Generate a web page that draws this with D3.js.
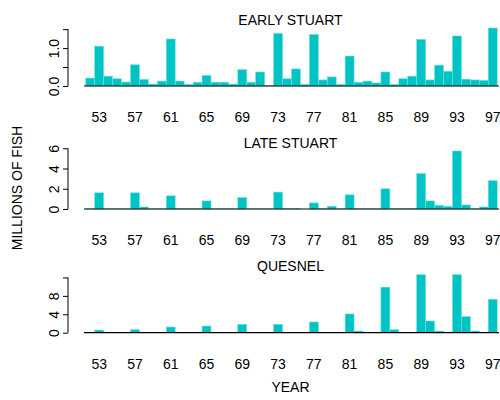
<!DOCTYPE html>
<html><head><meta charset="utf-8">
<script src="https://cdn.jsdelivr.net/npm/d3@7"></script>
<style>body{margin:0;background:#fff}svg{display:block}text{font-family:"Liberation Sans",Arial,sans-serif;fill:#000}</style>
</head><body><svg id="c" width="500" height="400"></svg>
<script>
const years = d3.range(1952, 1998);
const xTickYears = [1953,1957,1961,1965,1969,1973,1977,1981,1985,1989,1993,1997];
const panelTitles = ["EARLY STUART","LATE STUART","QUESNEL"];
const earlyStuart = [0.21,1.05,0.26,0.19,0.105,0.56,0.175,0.05,0.13,1.24,0.13,0.04,0.1,0.28,0.1,0.1,0.05,0.43,0.1,0.37,0.01,1.39,
  0.19,0.45,0.04,1.36,0.16,0.24,0.04,0.79,0.1,0.13,0.08,0.37,0.04,0.19,0.26,1.23,0.16,0.55,0.39,1.32,0.18,0.16,0.15,1.53];
const lateStuart = [0.02,1.6,0.02,0.02,0.02,1.6,0.2,0.02,0.02,1.3,0.03,0.03,0.03,0.8,0.02,0.02,0.02,1.13,0.02,0.02,0.02,1.67,
  0.03,0.03,0.0,0.6,0.03,0.27,0.02,1.4,0.03,0.02,0.02,2.0,0.03,0.03,0.03,3.5,0.8,0.37,0.27,5.73,0.4,0.02,0.2,2.8];
const quesnel = [0.05,0.58,0.05,0.05,0.05,0.65,0.05,0.05,0.05,1.24,0.05,0.05,0.05,1.45,0.05,0.05,0.05,1.82,0.05,0.05,0.05,1.82,
  0.05,0.05,0.05,2.33,0.05,0.05,0.05,4.07,0.36,0.05,0.05,9.9,0.65,0.05,0.05,12.6,2.55,0.36,0.05,12.6,3.5,0.36,0.05,7.27];
const seriesList = [earlyStuart, lateStuart, quesnel];
const yTicks = [[0,0.5,1.0,1.5],[0,2,4,6],[0,4,8,12]];
const yTickLabels = [["0.0","","1.0",""],["0","2","4","6"],["0","4","8",""]];
const yAxisTitle = "MILLIONS OF FISH";
const xAxisTitle = "YEAR";

const svg = d3.select("#c");
const x = d3.scaleBand().domain(years).range([85.75, 497.2]).padding(0);
const baselines = [86, 209, 332.7];
const plotH = 58;
const fill = "#00C4C4";

seriesList.forEach((data, i) => {
  const b = baselines[i];
  const y = d3.scaleLinear().domain([0, d3.max(data)]).range([b, b - plotH]);
  const g = svg.append("g");
  g.selectAll("rect").data(data).join("rect")
    .attr("x", (d, j) => x(years[j]))
    .attr("width", x.bandwidth())
    .attr("y", d => y(d))
    .attr("height", d => b - y(d))
    .attr("fill", fill)
    .attr("stroke", "#6fdede")
    .attr("stroke-width", 0.6);
  // baseline
  g.append("line").attr("x1", 84).attr("x2", 499).attr("y1", b).attr("y2", b)
    .attr("stroke", "#000").attr("stroke-width", 1.2);
  // y axis
  const ticks = yTicks[i];
  const ax = d3.axisLeft(y).tickValues(ticks).tickSize(5).tickSizeOuter(0)
    .tickFormat((d, k) => yTickLabels[i][k]);
  const ag = g.append("g").attr("transform", "translate(68,0)").call(ax);
  ag.select(".domain").attr("stroke", "#000").attr("d", `M0,${y(ticks[0])}V${y(ticks[ticks.length-1])}`);
  ag.selectAll(".tick line").attr("stroke", "#000");
  ag.selectAll(".tick text")
    .attr("x", 0).attr("dy", null)
    .attr("transform", "translate(-13,0) rotate(-90)")
    .attr("text-anchor", "middle")
    .attr("dominant-baseline", "middle")
    .style("font-size", "14px");
  // x labels
  g.selectAll("text.xl").data(xTickYears).join("text").attr("class", "xl")
    .attr("x", d => x(d) + x.bandwidth() / 2)
    .attr("y", b + 32.5)
    .attr("text-anchor", "middle")
    .attr("dominant-baseline", "middle")
    .style("font-size", "14px")
    .text(d => String(d).slice(2));
  // title
  g.append("text").attr("x", 290.5).attr("y", b - 65)
    .attr("text-anchor", "middle").attr("dominant-baseline", "middle")
    .style("font-size", "14px").text(panelTitles[i]);
});

svg.append("text").attr("transform", "translate(18,188) rotate(-90)")
  .attr("text-anchor", "middle").attr("dominant-baseline", "middle")
  .style("font-size", "14px").text(yAxisTitle);
svg.append("text").attr("x", 290.5).attr("y", 388)
  .attr("text-anchor", "middle").attr("dominant-baseline", "middle")
  .style("font-size", "14px").text(xAxisTitle);
</script></body></html>
